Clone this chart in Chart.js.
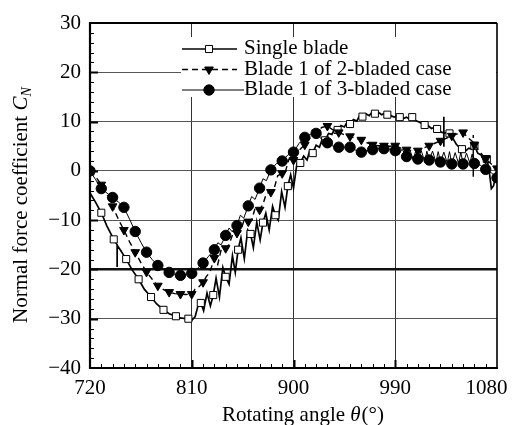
<!DOCTYPE html>
<html><head><meta charset="utf-8">
<script src="https://cdn.jsdelivr.net/npm/chart.js@4.4.1/dist/chart.umd.min.js"></script>
<style>html,body{margin:0;padding:0;background:#fff}#wrap{width:513px;height:425px;position:relative}</style>
</head><body><div id="wrap"><canvas id="c" width="513" height="425"></canvas></div>
<script>
const xTicks = [720, 810, 900, 990, 1080];
const yTicks = [-40, -30, -20, -10, 0, 10, 20, 30];
const seriesNames = ['Single blade', 'Blade 1 of 2-bladed case', 'Blade 1 of 3-bladed case'];
const xTitle = ['Rotating angle ', 'θ', '(°)'];
const yTitle = ['Normal force coefficient ', 'C', 'N'];

const singleAngles = [720,725,730,735,741,744,744,744,747,752,757,763,768,774,779,785,790,796,801,807,810,813,815.5,818,820.5,823.5,826.5,829,831.5,834.5,837.5,840,843,846,848.5,851,853.5,856.5,859.5,862,864.5,867.5,870.5,873,875.5,878.5,881.5,884,886.5,889.5,892.5,895,897.5,900,903,906,909,912,914.5,917,920,923,925.5,928,931,934,936.5,939,942,945,947.5,950,953,956,958.5,961,964,967,969.5,972,975,978,980.5,983,986,989,991.5,994,997,1000,1002.5,1005,1008,1011,1013.5,1016,1019,1022,1024.5,1027,1030,1033,1033,1033,1033,1035.5,1038,1041,1044,1046.5,1049,1052,1055,1057.5,1060,1063,1066,1068.5,1071,1073,1075,1077,1079,1080];
const singleValues = [-4.5,-6.4,-8.5,-11.2,-13.9,-15.0,-19.5,-15.1,-16.1,-17.9,-20.0,-22.0,-24.0,-25.6,-27.0,-28.2,-29.0,-29.5,-29.9,-30.0,-30.3,-29.6,-27.4,-26.8,-28.4,-24.8,-27.4,-25.2,-21.8,-25.6,-19.6,-21.5,-23.0,-17.2,-20.6,-16.0,-13.6,-17.8,-12.0,-12.8,-15.6,-10.4,-14.0,-10.5,-8.6,-12.0,-7.2,-9.0,-10.0,-4.2,-7.4,-3.1,-0.8,-3.5,1.4,1.6,3.0,2.2,4.2,3.6,5.2,4.8,6.5,6.2,7.6,7.4,8.6,8.3,9.2,8.9,9.9,9.5,10.4,10.1,11.2,11.0,11.6,11.2,11.9,11.6,11.9,11.4,11.7,11.4,11.2,10.9,11.2,10.9,10.6,10.9,10.5,10.9,10.2,9.9,9.6,9.3,9.2,8.6,8.8,8.5,7.9,7.7,11.0,4.9,7.6,7.8,7.6,6.6,5.4,4.8,4.4,4.0,4.6,4.4,5.1,3.6,3.2,2.0,2.4,0.2,-3.6,-3.0,-0.6,-1.0];
const singleMarks = [730,741,752,763,774,785,796,807,818,829,840,851,862,873,884,895,906,917,928,939,950,961,972,983,994,1005,1016,1027,1038,1049,1060,1071];

const twoAngles = [720,725,730,735,740,745,750,755,760,765,770,775,780,785,790,795,800,805,810,813,816,820,823,826,830,833,836,840,843,846,850,853,856,860,863,866,870,873,876,880,883,886,890,893,896,900,905,910,915,920,925,930,935,940,945,950,955,960,965,970,975,980,985,990,995,1000,1005,1010,1015,1020,1025,1030,1035,1040,1045,1050,1055,1059,1059,1059,1059,1060,1065,1070,1075,1080];
const twoValues = [0,-1.2,-2.8,-4.8,-7.2,-9.8,-12.0,-14.4,-16.5,-18.6,-20.5,-22.0,-23.3,-24.1,-24.6,-24.9,-25.0,-25.1,-25.0,-24.0,-23.6,-22.6,-21.4,-20.6,-17.7,-19.0,-16.0,-15.7,-15.0,-13.0,-12.6,-12.4,-10.2,-10.3,-10.0,-7.6,-7.9,-6.8,-4.6,-4.3,-3.5,-1.0,-0.5,0.0,2.4,2.2,4.2,5.3,6.8,7.8,8.8,9.1,8.3,7.8,7.3,7.0,6.6,6.3,5.7,5.3,5.1,5.1,5.0,5.1,4.6,4.3,4.1,4.1,4.6,5.1,5.6,6.1,6.6,7.1,7.5,7.8,6.6,5.8,7.3,-1.2,5.5,5.3,3.8,2.4,1.4,0.5];
const twoMarks = [720,730,740,750,760,770,780,790,800,810,820,830,840,850,860,870,880,890,900,910,920,930,940,950,960,970,980,990,1000,1010,1020,1030,1040,1050,1060,1070,1080];

const threeAngles = [720,725,730,735,740,745,750,755,760,765,770,775,780,785,790,795,800,805,810,815,820,825,830,833,836,840,843,846,850,853,856,860,863,866,870,873,876,880,885,890,895,900,905,910,915,920,925,930,935,940,945,950,955,960,965,970,975,980,985,990,993,996,1000,1003,1006,1008,1010,1013,1016,1018,1020,1023,1026,1028,1030,1033,1036,1038,1040,1043,1046,1048,1050,1053,1056,1058,1060,1065,1070,1075,1080];
const threeValues = [0,-1.8,-3.6,-4.5,-5.4,-6.3,-7.4,-9.8,-12.3,-14.5,-16.5,-18.0,-19.2,-20.0,-20.6,-21.0,-21.2,-21.1,-20.8,-19.8,-18.7,-17.3,-16.0,-14.6,-15.0,-13.1,-11.6,-12.4,-11.1,-9.0,-9.6,-7.1,-5.2,-5.8,-3.5,-1.6,-2.0,0.2,1.5,2.0,3.2,3.8,5.6,6.8,7.4,7.6,6.4,5.7,5.0,4.8,4.8,4.8,4.2,3.8,4.1,4.3,4.5,4.5,4.3,4.1,3.2,4.4,2.9,4.2,2.2,4.0,2.4,4.1,1.9,4.0,2.2,4.0,1.8,3.9,1.8,3.8,1.6,3.9,1.4,3.7,1.5,3.8,1.4,3.6,1.6,3.4,1.5,1.2,0.3,-0.4,-1.4];
const threeMarks = [720,730,740,750,760,770,780,790,800,810,820,830,840,850,860,870,880,890,900,910,920,930,940,950,960,970,980,990,1000,1010,1020,1030,1040,1050,1060,1070,1080];

const FONT = '"Liberation Serif", "Times New Roman", serif';
const toXY = (a, v) => a.map((x, i) => ({x: x, y: v[i]}));
const markR = (marks, r) => ctx => (ctx.raw && marks.indexOf(ctx.raw.x) >= 0) ? r : 0;

const styles = [
  {pointStyle: 'rect', rotation: 0, radius: 5, fill: '#fff', dash: [], width: 1.7, ptBorder: 1},
  {pointStyle: 'triangle', rotation: 180, radius: 5, fill: '#000', dash: [6, 4], width: 1.4, ptBorder: 1},
  {pointStyle: 'circle', rotation: 0, radius: 5.2, fill: '#000', dash: [], width: 1, ptBorder: 1}
];

const datasets = [
  {label: seriesNames[0], data: toXY(singleAngles, singleValues), marks: singleMarks},
  {label: seriesNames[1], data: toXY(twoAngles, twoValues), marks: twoMarks},
  {label: seriesNames[2], data: toXY(threeAngles, threeValues), marks: threeMarks}
].map((d, i) => ({
  label: d.label, data: d.data,
  borderColor: '#000', borderWidth: styles[i].width, borderDash: styles[i].dash,
  tension: 0, fill: false,
  pointStyle: styles[i].pointStyle, pointRotation: styles[i].rotation,
  pointRadius: markR(d.marks, styles[i].radius), pointHoverRadius: 0,
  pointBackgroundColor: styles[i].fill, pointBorderColor: '#000', pointBorderWidth: styles[i].ptBorder,
  order: 2 - i
}));

const overlay = {
  id: 'overlay',
  afterDatasetsDraw(chart) {
    const {ctx, chartArea: ca, scales: {x, y}} = chart;
    ctx.save();
    // legend box
    ctx.fillStyle = '#fff';
    ctx.fillRect(181, 37, ca.right - 181 - 1, 60);
    const rows = [49, 69.5, 90];
    const baselines = [54, 74.5, 95];
    for (let i = 0; i < 3; i++) {
      const st = styles[i];
      ctx.strokeStyle = '#000';
      ctx.lineWidth = st.width;
      ctx.setLineDash(st.dash);
      ctx.beginPath();
      ctx.moveTo(182, rows[i]);
      ctx.lineTo(i === 2 ? 244 : 237, rows[i]);
      ctx.stroke();
      ctx.setLineDash([]);
      ctx.fillStyle = st.fill;
      ctx.lineWidth = 1;
      Chart.helpers.drawPoint(ctx, {pointStyle: st.pointStyle, radius: st.radius, rotation: st.rotation, borderWidth: 1}, 209, rows[i]);
      ctx.fillStyle = '#000';
      ctx.font = '21px ' + FONT;
      ctx.textAlign = 'left';
      ctx.textBaseline = 'alphabetic';
      ctx.fillText(seriesNames[i], 244, baselines[i]);
    }
    // inner ticks
    ctx.strokeStyle = '#000';
    for (let v = 730; v < 1080; v += 10) {
      const major = xTicks.indexOf(v) >= 0;
      const px = Math.round(x.getPixelForValue(v)) + 0.5;
      ctx.lineWidth = major ? 2 : 1;
      ctx.beginPath(); ctx.moveTo(px, ca.bottom); ctx.lineTo(px, ca.bottom - (major ? 8 : 4)); ctx.stroke();
    }
    for (let v = -38; v < 30; v += 2) {
      const major = yTicks.indexOf(v) >= 0;
      const py = Math.round(y.getPixelForValue(v)) + 0.5;
      ctx.lineWidth = major ? 2 : 1;
      ctx.beginPath(); ctx.moveTo(ca.left, py); ctx.lineTo(ca.left + (major ? 8 : 4), py); ctx.stroke();
    }
    // frame
    ctx.lineWidth = 2.2;
    ctx.beginPath(); ctx.moveTo(ca.left, ca.top); ctx.lineTo(ca.right, ca.top); ctx.stroke();
    ctx.beginPath(); ctx.moveTo(ca.left, ca.top - 1); ctx.lineTo(ca.left, ca.bottom + 1); ctx.stroke();
    ctx.beginPath(); ctx.moveTo(ca.left - 1, ca.bottom); ctx.lineTo(ca.right + 1, ca.bottom); ctx.stroke();
    ctx.lineWidth = 1.6;
    ctx.beginPath(); ctx.moveTo(ca.right, ca.top); ctx.lineTo(ca.right, ca.bottom); ctx.stroke();
    ctx.restore();
  },
  afterDraw(chart) {
    const ctx = chart.ctx;
    ctx.save();
    ctx.fillStyle = '#000';
    ctx.textBaseline = 'alphabetic';
    ctx.textAlign = 'left';
    // x title
    let xx = 222;
    const xb = 421;
    ctx.font = '21px ' + FONT; ctx.fillText(xTitle[0], xx, xb); xx += ctx.measureText(xTitle[0]).width;
    ctx.font = 'italic 21px ' + FONT; ctx.fillText(xTitle[1], xx, xb); xx += ctx.measureText(xTitle[1]).width + 1;
    ctx.font = '21px ' + FONT; ctx.fillText(xTitle[2], xx, xb);
    // y title
    ctx.translate(27, 323);
    ctx.rotate(-Math.PI / 2);
    let yy = 0;
    ctx.font = '21px ' + FONT; ctx.fillText(yTitle[0], yy, 0); yy += ctx.measureText(yTitle[0]).width;
    ctx.font = 'italic 21px ' + FONT; ctx.fillText(yTitle[1], yy, 0); yy += ctx.measureText(yTitle[1]).width;
    ctx.font = 'italic 14px ' + FONT; ctx.fillText(yTitle[2], yy, 4);
    ctx.restore();
  }
};

new Chart(document.getElementById('c'), {
  type: 'line',
  data: {datasets: datasets},
  options: {
    responsive: false, animation: false, devicePixelRatio: 1, events: [],
    layout: {autoPadding: false, padding: {top: 23, right: 16, bottom: 0, left: 0}},
    plugins: {legend: {display: false}, tooltip: {enabled: false}, title: {display: false}},
    scales: {
      x: {
        type: 'linear', min: 720, max: 1080,
        afterBuildTicks: s => { s.ticks = xTicks.map(v => ({value: v})); },
        afterFit: s => { s.height = 57; s.paddingLeft = 0; s.paddingRight = 0; s.paddingTop = 0; s.paddingBottom = 0; },
        ticks: {font: {family: FONT, size: 21}, color: '#000', padding: 8, maxRotation: 0, autoSkip: false,
          callback: v => (v === 1080 ? '1080\u2002\u2002' : String(v))},
        grid: {drawTicks: false, color: c => (c.tick && (c.tick.value === 720 || c.tick.value === 1080)) ? 'rgba(0,0,0,0)' : '#333', lineWidth: 1},
        border: {display: false}
      },
      y: {
        type: 'linear', min: -40, max: 30,
        afterBuildTicks: s => { s.ticks = yTicks.map(v => ({value: v})); },
        afterFit: s => { s.width = 90; s.paddingLeft = 0; s.paddingRight = 0; s.paddingTop = 0; s.paddingBottom = 0; },
        ticks: {font: {family: FONT, size: 21}, color: '#000', padding: 9,
          callback: v => String(v).replace('-', '\u2212')},
        grid: {drawTicks: false,
          color: c => (c.tick && (c.tick.value === -40 || c.tick.value === 30)) ? 'rgba(0,0,0,0)' : (c.tick && c.tick.value === -20 ? '#111' : '#555'),
          lineWidth: c => (c.tick && c.tick.value === -20) ? 2.4 : 1},
        border: {display: false}
      }
    }
  },
  plugins: [overlay]
});
</script>
</body></html>
